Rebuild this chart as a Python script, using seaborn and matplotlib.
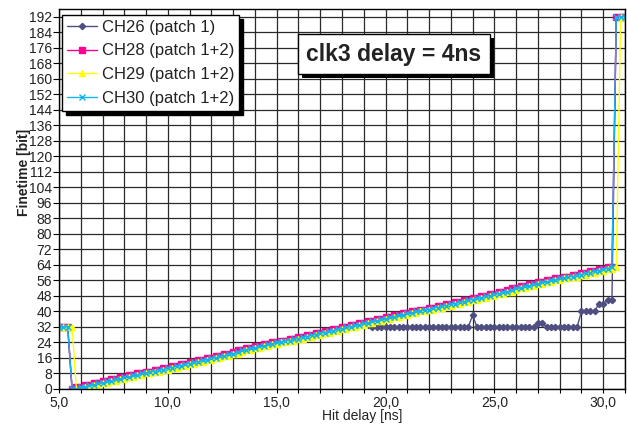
import matplotlib
matplotlib.use("Agg")
import matplotlib.pyplot as plt
import matplotlib.patheffects as pe
from matplotlib.ticker import MultipleLocator, FuncFormatter
import seaborn as sns

# ---------------- data ----------------
hit_delay = [
    5.0, 5.2, 5.4, 5.6, 5.8, 6.0, 6.2, 6.4, 6.6, 6.8,
    7.0, 7.2, 7.4, 7.6, 7.8, 8.0, 8.2, 8.4, 8.6, 8.8,
    9.0, 9.2, 9.4, 9.6, 9.8, 10.0, 10.2, 10.4, 10.6, 10.8,
    11.0, 11.2, 11.4, 11.6, 11.8, 12.0, 12.2, 12.4, 12.6, 12.8,
    13.0, 13.2, 13.4, 13.6, 13.8, 14.0, 14.2, 14.4, 14.6, 14.8,
    15.0, 15.2, 15.4, 15.6, 15.8, 16.0, 16.2, 16.4, 16.6, 16.8,
    17.0, 17.2, 17.4, 17.6, 17.8, 18.0, 18.2, 18.4, 18.6, 18.8,
    19.0, 19.2, 19.4, 19.6, 19.8, 20.0, 20.2, 20.4, 20.6, 20.8,
    21.0, 21.2, 21.4, 21.6, 21.8, 22.0, 22.2, 22.4, 22.6, 22.8,
    23.0, 23.2, 23.4, 23.6, 23.8, 24.0, 24.2, 24.4, 24.6, 24.8,
    25.0, 25.2, 25.4, 25.6, 25.8, 26.0, 26.2, 26.4, 26.6, 26.8,
    27.0, 27.2, 27.4, 27.6, 27.8, 28.0, 28.2, 28.4, 28.6, 28.8,
    29.0, 29.2, 29.4, 29.6, 29.8, 30.0, 30.2, 30.4, 30.6, 30.8,
    31.0,
]

ch26 = [
    32, 32, 32, 0, 0, 1, 1, 2, 2, 3,
    3, 4, 4, 5, 5, 6, 6, 7, 7, 8,
    8, 9, 9, 10, 10, 11, 11, 12, 12, 13,
    13, 14, 14, 15, 15, 16, 16, 17, 17, 18,
    18, 19, 20, 20, 21, 21, 22, 22, 23, 23,
    24, 24, 25, 25, 26, 26, 27, 27, 28, 28,
    29, 29, 30, 30, 31, 31, 32, 32, 33, 33,
    33, 33, 32, 32, 32, 32, 32, 32, 32, 32,
    32, 32, 32, 32, 32, 32, 32, 32, 32, 32,
    32, 32, 32, 32, 32, 38, 32, 32, 32, 32,
    32, 32, 32, 32, 32, 32, 32, 32, 32, 32,
    34, 34, 32, 32, 32, 32, 32, 32, 32, 32,
    40, 40, 40, 40, 44, 44, 46, 46, 192, 192,
    192,
]

ch28 = [
    32, 32, 32, 0, 1, 1, 2, 2, 3, 3,
    4, 4, 5, 5, 6, 6, 7, 7, 8, 8,
    9, 9, 10, 10, 11, 11, 12, 12, 13, 13,
    14, 14, 15, 15, 16, 16, 17, 17, 18, 18,
    19, 20, 20, 21, 21, 22, 22, 23, 23, 24,
    24, 25, 25, 26, 26, 27, 27, 28, 28, 29,
    29, 30, 30, 31, 31, 32, 32, 33, 33, 34,
    34, 35, 35, 36, 36, 37, 37, 38, 38, 39,
    39, 40, 40, 41, 41, 42, 42, 43, 43, 44,
    44, 45, 45, 46, 46, 47, 47, 48, 48, 49,
    49, 50, 50, 51, 52, 52, 53, 53, 54, 54,
    55, 55, 56, 56, 57, 57, 58, 58, 59, 59,
    60, 60, 61, 61, 62, 62, 63, 63, 192, 192,
    192,
]

ch29 = [
    32, 32, 32, 32, 0, 0, 1, 1, 2, 2,
    3, 3, 4, 4, 5, 5, 6, 6, 7, 7,
    8, 8, 9, 9, 10, 10, 11, 11, 12, 12,
    13, 13, 14, 14, 15, 15, 16, 16, 17, 17,
    18, 18, 19, 20, 20, 21, 21, 22, 22, 23,
    23, 24, 24, 25, 25, 26, 26, 27, 27, 28,
    28, 29, 29, 30, 30, 31, 31, 32, 32, 33,
    33, 34, 34, 35, 35, 36, 36, 37, 37, 38,
    38, 39, 39, 40, 40, 41, 41, 42, 42, 43,
    43, 44, 44, 45, 45, 46, 46, 47, 47, 48,
    48, 49, 49, 50, 50, 51, 52, 52, 53, 53,
    54, 54, 55, 55, 56, 56, 57, 57, 58, 58,
    59, 59, 60, 60, 61, 61, 62, 62, 63, 192,
    192,
]

ch30 = [
    32, 32, 32, 0, 0, 1, 1, 2, 2, 3,
    3, 4, 4, 5, 5, 6, 6, 7, 7, 8,
    8, 9, 9, 10, 10, 11, 11, 12, 12, 13,
    13, 14, 14, 15, 15, 16, 16, 17, 17, 18,
    18, 19, 20, 20, 21, 21, 22, 22, 23, 23,
    24, 24, 25, 25, 26, 26, 27, 27, 28, 28,
    29, 29, 30, 30, 31, 31, 32, 32, 33, 33,
    34, 34, 35, 35, 36, 36, 37, 37, 38, 38,
    39, 39, 40, 40, 41, 41, 42, 42, 43, 43,
    44, 44, 45, 45, 46, 46, 47, 47, 48, 48,
    49, 49, 50, 50, 51, 52, 52, 53, 53, 54,
    54, 55, 55, 56, 56, 57, 57, 58, 58, 59,
    59, 60, 60, 61, 61, 62, 62, 63, 192, 192,
    192,
]

series_labels = ["CH26 (patch 1)", "CH28 (patch 1+2)",
                 "CH29 (patch 1+2)", "CH30 (patch 1+2)"]
series_values = [ch26, ch28, ch29, ch30]
x_tick_values = [5.0, 10.0, 15.0, 20.0, 25.0, 30.0]
annotation = "clk3 delay = 4ns"
x_label = "Hit delay [ns]"
y_label = "Finetime [bit]"

# ---------------- styling ----------------
sns.set_theme(style="white")
plt.rcParams["font.family"] = ["Liberation Sans", "DejaVu Sans"]

colors = ["#4E4E80", "#FF0090", "#FFFF00", "#10B4F0"]
markers = ["D", "s", "^", "x"]
msizes = [3.2, 4.0, 4.6, 4.6]

fig = plt.figure(figsize=(6.27, 4.26), dpi=100)
ax = fig.add_axes([59 / 627, 1 - 389 / 426, 566 / 627, 380 / 426])

for vals, lab, c, m, ms in zip(series_values, series_labels, colors, markers, msizes):
    sns.lineplot(x=hit_delay, y=vals, ax=ax, color=c, marker=m, markersize=ms,
                 markeredgecolor=c, markerfacecolor=c, markeredgewidth=1.0,
                 linewidth=1.0, label=lab, estimator=None, sort=False)

ax.set_xlim(5.0, 31.0)
ax.set_ylim(0, 196)
ax.set_xticks(x_tick_values)
ax.xaxis.set_minor_locator(MultipleLocator(1))
ax.yaxis.set_major_locator(MultipleLocator(8))
ax.xaxis.set_major_formatter(FuncFormatter(lambda v, p: f"{v:.1f}".replace(".", ",")))
ax.grid(which="both", axis="x", color="#2a2a2a", linewidth=0.9)
ax.grid(which="major", axis="y", color="#2a2a2a", linewidth=0.9)
ax.set_axisbelow(True)
ax.set_xlabel("")
ax.set_ylabel("")

ax.tick_params(axis="y", which="major", direction="out", length=4, width=0.8,
               color="black", labelsize=10, labelcolor="#222222", pad=1, left=True)
ax.tick_params(axis="x", which="major", direction="out", length=3, width=0.8,
               color="black", labelsize=10, labelcolor="#222222", pad=2, bottom=True)
ax.tick_params(axis="x", which="minor", direction="out", length=3, width=0.8,
               color="black", bottom=True)
for side in ["left", "bottom", "top", "right"]:
    ax.spines[side].set_visible(True)
    ax.spines[side].set_color("black")
    ax.spines[side].set_linewidth(1.0)

fig.text(362 / 627, 1 - 416 / 426, x_label, ha="center", va="center",
         fontsize=10, color="#222222")
fig.text(24 / 627, 1 - 172 / 426, y_label, ha="center", va="center",
         rotation=90, fontsize=10, fontweight="bold", color="#222222")

leg = ax.legend(loc="upper left", bbox_to_anchor=(0.005, 0.985), borderaxespad=0,
                fontsize=12, frameon=True, fancybox=False, framealpha=1,
                edgecolor="black", facecolor="white", handlelength=1.8,
                handletextpad=0.3, labelspacing=0.52, borderpad=0.3,
                shadow={"ox": 3, "oy": -3, "facecolor": "black",
                        "edgecolor": "black", "alpha": 1.0})
leg.get_frame().set_linewidth(1.0)
for t in leg.get_texts():
    t.set_color("#222222")

tx, ty = (394 - 59) / 566, (389 - 54) / 380
title_txt = ax.text(tx, ty, annotation, transform=ax.transAxes, ha="center", va="center",
                    fontsize=16.5, fontweight="bold", color="#222222", zorder=10,
                    bbox=dict(boxstyle="square,pad=0.36", fc="white", ec="black", lw=1))
title_txt.get_bbox_patch().set_path_effects([
    pe.SimplePatchShadow(offset=(3, -3), shadow_rgbFace="black", alpha=1.0),
    pe.Normal(),
])

fig.savefig("out.png", dpi=100)
